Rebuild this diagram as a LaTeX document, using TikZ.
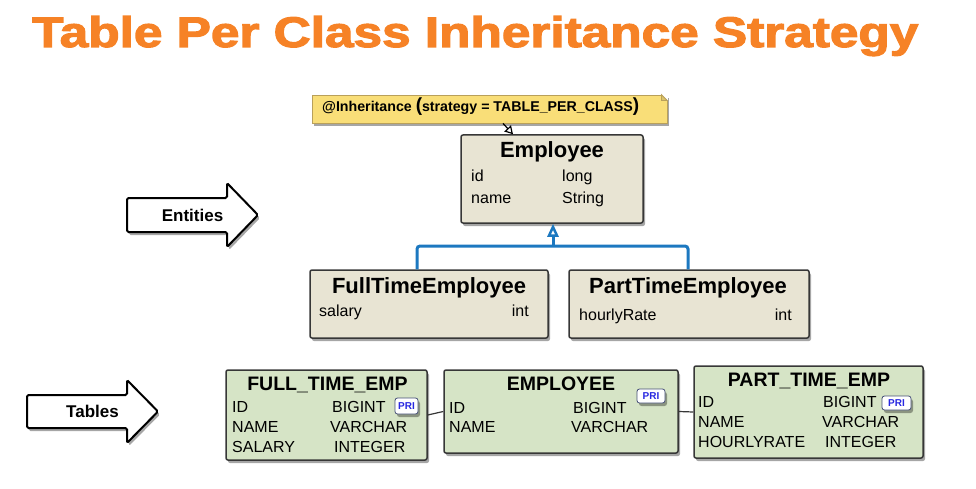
\documentclass[tikz,border=0pt]{standalone}
\usepackage{fontspec}
\usepackage{graphicx}
\setmainfont{Liberation Sans}
\newfontface\titlefont{Liberation Sans Bold}[FakeBold=2.5]
\usetikzlibrary{shadows,arrows.meta,calc}
\definecolor{titleorange}{RGB}{246,130,38}
\definecolor{entfill}{RGB}{232,228,211}
\definecolor{tabfill}{RGB}{214,228,198}
\definecolor{boxline}{RGB}{55,55,55}
\definecolor{inhblue}{RGB}{28,120,192}
\definecolor{notefill}{RGB}{249,222,120}
\definecolor{noteline}{RGB}{185,160,90}
\definecolor{pritext}{RGB}{40,40,225}
\definecolor{priline}{RGB}{70,80,120}
\tikzset{
  shade/.style={drop shadow={shadow xshift=2pt,shadow yshift=-3pt,opacity=0.35,fill=black}},
  entbox/.style={draw=boxline,line width=1.5pt,fill=entfill,rounded corners=2pt,shade,inner sep=0pt},
  tabbox/.style={draw=boxline,line width=1.5pt,fill=tabfill,rounded corners=2pt,shade,inner sep=0pt},
  enttitle/.style={font=\fontsize{22}{22}\selectfont\bfseries,anchor=base,inner sep=0pt},
  tabtitle/.style={font=\fontsize{19.5}{20}\selectfont\bfseries,anchor=base,inner sep=0pt},
  attr/.style={font=\fontsize{16}{16}\selectfont,anchor=base west,inner sep=0pt},
  attrr/.style={font=\fontsize{16}{16}\selectfont,anchor=base east,inner sep=0pt},
  pri/.style={draw=priline,line width=0.8pt,fill=white,rounded corners=2.5pt,
    font=\fontsize{10}{10}\selectfont\bfseries,text=pritext,inner sep=0pt,shade},
  notebox/.style={draw=noteline,line width=0.8pt,fill=notefill,inner sep=0pt,shade},
  blockarrow/.style={draw=black,line width=2pt,fill=white,rounded corners=1.5pt,shade},
  arrowtext/.style={font=\fontsize{17}{17}\selectfont\bfseries,inner sep=0pt},
  inh/.style={draw=inhblue,line width=3pt,rounded corners=3pt},
  rel/.style={draw=boxline,line width=1.2pt},
}
\begin{document}
\begin{tikzpicture}[x=1pt,y=-1pt]
\useasboundingbox (0,0) rectangle (976,489);

% title
\node[anchor=base west,inner sep=0pt,text=titleorange] (title) at (32,47)
  {\resizebox{886pt}{31pt}{\titlefont Table Per Class Inheritance Strategy}};

% block arrows
\draw[blockarrow] (127,198) -- (227,198) -- (227,183) -- (258,215) -- (227,247) -- (227,232) -- (127,232) -- cycle;
\node[arrowtext] (entities) at (192.5,215) {Entities};
\draw[blockarrow] (27,395) -- (127,395) -- (127,380) -- (158,411.5) -- (127,443) -- (127,428) -- (27,428) -- cycle;
\node[arrowtext] (tables) at (92.5,411.5) {Tables};

% connectors (entities)
\coordinate (jl) at (417,246);
\coordinate (jr) at (688,246);
\coordinate (jm) at (553,246);

% entity boxes
\node[entbox,minimum width=182pt,minimum height=88pt] (emp) at (552,179) {};
\node[entbox,minimum width=238pt,minimum height=68pt] (fte) at (429,304) {};
\node[entbox,minimum width=240pt,minimum height=68pt] (pte) at (689,304) {};

\draw[inh] (jl |- fte.north) -- (jl) -- (jr) -- (jr |- pte.north);
\draw[inh,rounded corners=0pt,-{Triangle[open,length=13pt,width=11pt,line width=2.5pt]}] (jm) -- (jm |- emp.south);

\node[enttitle] (empT) at (552,158) {Employee};
\node[attr] (empA1) at (471,182) {id};
\node[attr] (empB1) at (562,182) {long};
\node[attr] (empA2) at (471,203) {name};
\node[attr] (empB2) at (562,203) {String};

\node[enttitle] (fteT) at (429,293) {FullTimeEmployee};
\node[attr] (fteA1) at (319,316) {salary};
\node[attrr] (fteB1) at (529,316) {int};

\node[enttitle] (pteT) at (688,293) {PartTimeEmployee};
\node[attr] (pteA1) at (579,320) {hourlyRate};
\node[attrr] (pteB1) at (792,320) {int};

% note
\node[notebox,minimum width=355pt,minimum height=28pt] (note) at (489.5,109) {};
\fill[white] ([xshift=-6.5pt,yshift=0.5pt]note.north east) -- ([xshift=0.5pt,yshift=0.5pt]note.north east) -- ([xshift=0.5pt,yshift=-6.5pt]note.north east) -- cycle;
\draw[noteline,line width=0.8pt,fill=notefill!80!black!60!notefill] ([xshift=-6pt]note.north east) -- ([yshift=-6pt]note.north east) -- ([xshift=-6pt,yshift=-6pt]note.north east) -- cycle;
\node[anchor=base west,inner sep=0pt,font=\fontsize{14.2}{15}\selectfont\bfseries] (noteT) at (322,112)
  {@Inheritance {\fontsize{19}{19}\selectfont(}strategy = TABLE\_PER\_CLASS{\fontsize{19}{19}\selectfont)}};
\draw[line width=1.2pt,-{Triangle[open,length=8pt,width=9pt,line width=1.2pt]}] ([xshift=13.5pt]note.south) -- ([xshift=-39pt]emp.north);

% tables
\node[tabbox,minimum width=201pt,minimum height=90pt] (ftab) at (326.5,415) {};
\node[tabbox,minimum width=234pt,minimum height=83pt] (etab) at (561,411.5) {};
\node[tabbox,minimum width=229pt,minimum height=92pt] (ptab) at (808.5,412) {};
\draw[rel] (ftab.east) -- (etab.west);
\draw[rel] (etab.east) -- (ptab.west);

\node[tabtitle] (ftabT) at (327.5,390) {FULL\_TIME\_EMP};
\node[attr] (ftabA1) at (232,412) {ID};
\node[attr] (ftabA2) at (232,432) {NAME};
\node[attr] (ftabA3) at (232,452) {SALARY};
\node[attr] (ftabB1) at (332,412) {BIGINT};
\node[attr] (ftabB2) at (330,432) {VARCHAR};
\node[attr] (ftabB3) at (334,452) {INTEGER};
\node[pri,minimum width=23pt,minimum height=16pt] (ftabP) at (406.5,406) {PRI};

\node[tabtitle] (etabT) at (561,390) {EMPLOYEE};
\node[attr] (etabA1) at (449,413) {ID};
\node[attr] (etabA2) at (449,432) {NAME};
\node[attr] (etabB1) at (573,413) {BIGINT};
\node[attr] (etabB2) at (571,432) {VARCHAR};
\node[pri,minimum width=28pt,minimum height=14pt] (etabP) at (651,396) {PRI};

\node[tabtitle] (ptabT) at (809,386) {PART\_TIME\_EMP};
\node[attr] (ptabA1) at (698,407) {ID};
\node[attr] (ptabA2) at (698,427) {NAME};
\node[attr] (ptabA3) at (698,447) {HOURLYRATE};
\node[attr] (ptabB1) at (823,407) {BIGINT};
\node[attr] (ptabB2) at (822,427) {VARCHAR};
\node[attr] (ptabB3) at (825,447) {INTEGER};
\node[pri,minimum width=29pt,minimum height=14pt] (ptabP) at (896.5,403) {PRI};
\end{tikzpicture}
\end{document}
